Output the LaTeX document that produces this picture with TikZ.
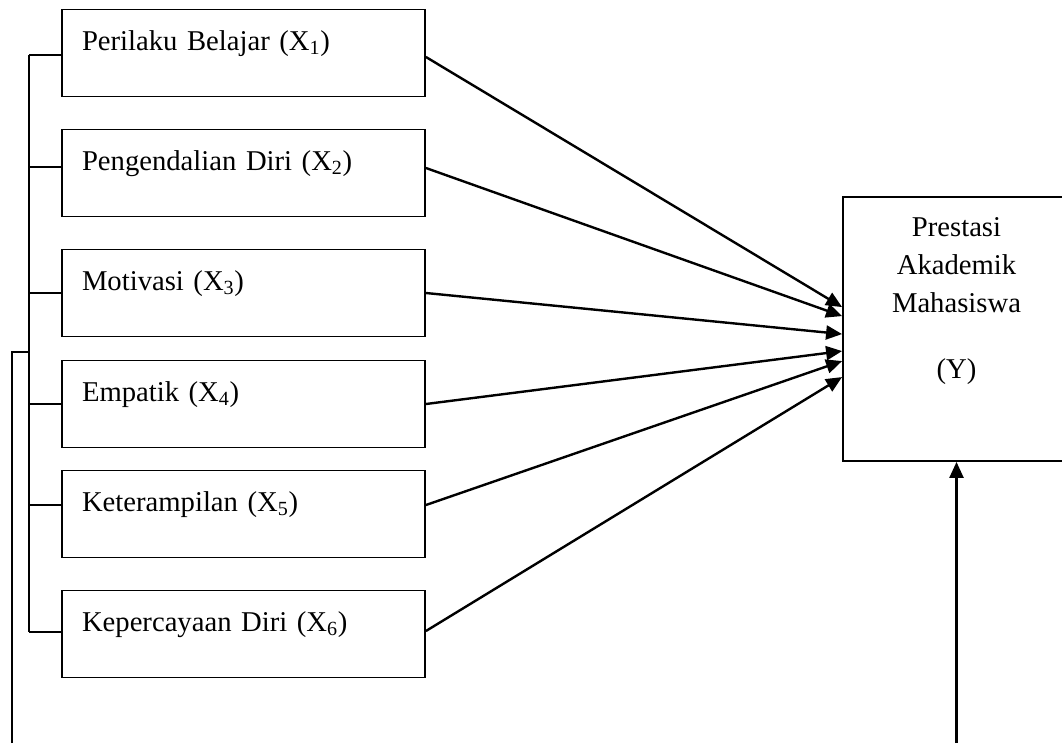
\documentclass[tikz,border=0pt]{standalone}
\usepackage{fontspec}
\setmainfont{Liberation Serif}
\usepackage{tikz}
\usetikzlibrary{arrows.meta, positioning}

\begin{document}
\begin{tikzpicture}[
  x=0.75pt, y=-0.75pt,
  xbox/.style={draw, line width=1.4pt, minimum width=272.25pt, inner xsep=15pt,
               inner ysep=0pt, text width=242.25pt, align=left,
               text height=30.5pt, text depth=34.75pt},
  ybox/.style={draw, line width=1.4pt, minimum width=170.25pt, minimum height=198pt},
  ytext/.style={inner sep=0pt, align=center},
  arr/.style={line width=1.8pt, -{Triangle[length=12pt, width=10.5pt]}},
  link/.style={line width=1.4pt},
  every node/.style={font=\fontsize{21.5}{28.5}\selectfont}
]
  \useasboundingbox (0,0) rectangle (1062,743);

  % Variabel X
  \node[xbox] (x1) at (243.5, 53)  {Perilaku Belajar (X\textsubscript{1})};
  \node[xbox] (x2) at (243.5, 173) {Pengendalian Diri (X\textsubscript{2})};
  \node[xbox] (x3) at (243.5, 293) {Motivasi (X\textsubscript{3})};
  \node[xbox] (x4) at (243.5, 404) {Empatik (X\textsubscript{4})};
  \node[xbox] (x5) at (243.5, 514) {Keterampilan (X\textsubscript{5})};
  \node[xbox] (x6) at (243.5, 634) {Kepercayaan Diri (X\textsubscript{6})};

  % Variabel Y
  \node[ybox] (Y) at (956.5, 329) {};
  \node[ytext, below=16pt of Y.north] (ylbl)
    {Prestasi\\Akademik\\Mahasiswa\\[21pt](Y)};

  % ujung panah di sisi Y
  \coordinate (t1) at ([yshift=-83.25pt]Y.north west);
  \coordinate (t2) at ([yshift=-90pt]Y.north west);
  \coordinate (t3) at ([yshift=-103.5pt]Y.north west);
  \coordinate (t4) at ([yshift=-116.25pt]Y.north west);
  \coordinate (t5) at ([yshift=-123.75pt]Y.north west);
  \coordinate (t6) at ([yshift=-135.75pt]Y.north west);

  \draw[arr] ([yshift=-3pt]x1.east) -- (t1);
  \draw[arr] ([yshift=3.75pt]x2.east) -- (t2);
  \draw[arr] (x3.east) -- (t3);
  \draw[arr] (x4.east) -- (t4);
  \draw[arr] ([yshift=6.75pt]x5.east) -- (t5);
  \draw[arr] ([yshift=2.25pt]x6.east) -- (t6);

  % kurung kiri
  \draw[link] ([yshift=-1.5pt]x1.west) -- ++(-32,0) coordinate (b1);
  \draw[link] ([yshift=4.5pt]x2.west) -- ++(-32,0) coordinate (b2);
  \draw[link] (x3.west) -- ++(-32,0) coordinate (b3);
  \draw[link] (x4.west) -- ++(-32,0) coordinate (b4);
  \draw[link] ([yshift=6.75pt]x5.west) -- ++(-32,0) coordinate (b5);
  \draw[link] ([yshift=1.5pt]x6.west) -- ++(-32,0) coordinate (b6);
  \draw[link] (b1) -- (b6);

  % garis bawah
  \coordinate (lj) at (30, 352);
  \coordinate (lb) at (12, 743);
  \draw[link] (lb) |- (lj);
  \coordinate (yb) at (Y.south |- lb);
  \draw[arr] (yb) -- (Y.south);
\end{tikzpicture}
\end{document}
